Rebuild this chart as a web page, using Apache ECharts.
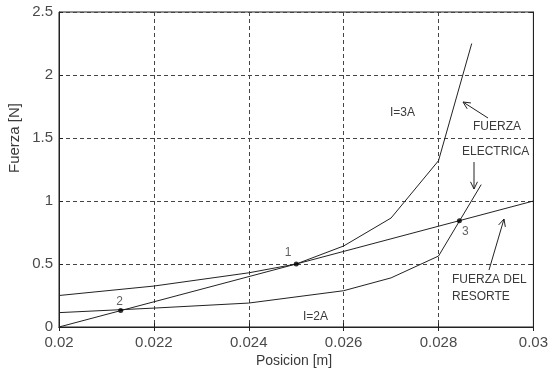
<!DOCTYPE html>
<html>
<head>
<meta charset="utf-8">
<script src="https://cdn.jsdelivr.net/npm/echarts@6/dist/echarts.min.js"></script>
<style>
  html, body { margin: 0; padding: 0; background: #fff; }
  #chart { width: 551px; height: 374px; }
</style>
</head>
<body>
<div id="chart"></div>
<script>
// Posición del émbolo [m] y fuerzas [N]
const xTickLabels = ['0.02', '0.022', '0.024', '0.026', '0.028', '0.03'];
const yTickLabels = ['0', '0.5', '1', '1.5', '2', '2.5'];

// Fuerza eléctrica, I = 3A
const pos3A = [0.020, 0.022, 0.024, 0.025, 0.026, 0.027, 0.028, 0.0287];
const fuerza3A = [0.25, 0.325, 0.43, 0.50, 0.643, 0.865, 1.32, 2.25];

// Fuerza eléctrica, I = 2A
const pos2A = [0.020, 0.022, 0.024, 0.026, 0.027, 0.028, 0.0289];
const fuerza2A = [0.114, 0.15, 0.19, 0.288, 0.39, 0.563, 1.13];

// Fuerza del resorte (lineal)
const posResorte = [0.020, 0.030];
const fuerzaResorte = [0.0, 1.0];

// Puntos de equilibrio
const eqNombre = ['1', '2', '3'];
const eqPos = [0.025, 0.0213, 0.02844];
const eqFuerza = [0.50, 0.13, 0.844];

const FONT = 'Liberation Sans';
const INK = '#222';
const TXT = '#3a3a3a';

const pair = (xs, ys) => xs.map((x, i) => [x, ys[i]]);

// label offsets for the equilibrium markers
const eqOffsets = [[-8, -11], [-1, -9], [6, 11]];

function arrow(x1, y1, x2, y2) {
  // open arrowhead at (x2, y2)
  const ang = Math.atan2(y2 - y1, x2 - x1);
  const L = 8, A = 0.45;
  const a1 = [x2 - L * Math.cos(ang - A), y2 - L * Math.sin(ang - A)];
  const a2 = [x2 - L * Math.cos(ang + A), y2 - L * Math.sin(ang + A)];
  return {
    type: 'group',
    children: [
      { type: 'line', shape: { x1, y1, x2, y2 }, style: { stroke: INK, lineWidth: 1 } },
      { type: 'polyline', shape: { points: [a1, [x2, y2], a2] }, style: { stroke: INK, lineWidth: 1, fill: null } }
    ]
  };
}

function label(text, x, y, opts) {
  return Object.assign({
    type: 'text', x, y,
    style: { text, fill: TXT, font: '12px "' + FONT + '"', textAlign: 'left', textVerticalAlign: 'middle' }
  }, opts || {});
}

const chart = echarts.init(document.getElementById('chart'), null, { renderer: 'canvas' });

const axisCommon = {
  axisLine: { show: true, lineStyle: { color: INK, width: 1 } },
  axisTick: { show: true, inside: true, length: 4, lineStyle: { color: INK } },
};

chart.setOption({
  animation: false,
  backgroundColor: '#fff',
  grid: { left: 59, right: 17, top: 12, bottom: 47, show: true, borderColor: INK, borderWidth: 1 },
  xAxis: [
    Object.assign({
      type: 'value', min: 0.02, max: 0.03, interval: 0.002,
      axisLabel: {
        color: '#4a4a4a', fontFamily: FONT, fontSize: 15, margin: 8,
        formatter: (v, i) => xTickLabels[Math.round((v - 0.02) / 0.002)]
      },
      splitLine: { show: true, lineStyle: { color: '#444', type: [4, 3], width: 1 } }
    }, axisCommon),
    Object.assign({
      type: 'value', min: 0.02, max: 0.03, interval: 0.002, position: 'top',
      axisLabel: { show: false }, splitLine: { show: false }
    }, axisCommon)
  ],
  yAxis: [
    Object.assign({
      type: 'value', min: 0, max: 2.5, interval: 0.5,
      axisLabel: {
        color: '#4a4a4a', fontFamily: FONT, fontSize: 15, margin: 6,
        formatter: (v) => yTickLabels[Math.round(v / 0.5)]
      },
      splitLine: { show: true, lineStyle: { color: '#444', type: [4, 3], width: 1 } }
    }, axisCommon),
    Object.assign({
      type: 'value', min: 0, max: 2.5, interval: 0.5, position: 'right',
      axisLabel: { show: false }, splitLine: { show: false }
    }, axisCommon)
  ],
  series: [
    {
      name: 'I=3A', type: 'line', data: pair(pos3A, fuerza3A),
      showSymbol: false, lineStyle: { color: INK, width: 1 }, z: 3
    },
    {
      name: 'I=2A', type: 'line', data: pair(pos2A, fuerza2A),
      showSymbol: false, lineStyle: { color: INK, width: 1 }, z: 3
    },
    {
      name: 'Resorte', type: 'line', data: pair(posResorte, fuerzaResorte),
      showSymbol: false, lineStyle: { color: INK, width: 1 }, z: 3
    },
    {
      name: 'Equilibrio', type: 'scatter', symbolSize: 5, z: 4,
      itemStyle: { color: '#000' },
      data: eqPos.map((x, i) => ({
        value: [x, eqFuerza[i]],
        label: {
          show: true, formatter: eqNombre[i], position: 'inside',
          offset: eqOffsets[i], color: TXT, fontFamily: FONT, fontSize: 12
        }
      }))
    }
  ],
  graphic: [
    // axis names
    label('Fuerza [N]', 15, 138, { rotation: Math.PI / 2, style: { text: 'Fuerza [N]', fill: TXT, font: '15px "' + FONT + '"', textAlign: 'center', textVerticalAlign: 'middle' } }),
    label('Posicion [m]', 294, 361, { style: { text: 'Posicion [m]', fill: TXT, font: '14px "' + FONT + '"', textAlign: 'center', textVerticalAlign: 'middle' } }),
    // curve annotations
    label('I=3A', 390, 113),
    label('I=2A', 303, 317),
    label('FUERZA', 473, 127),
    label('ELECTRICA', 462, 152),
    label('FUERZA DEL', 452, 280),
    label('RESORTE', 452, 297),
    arrow(488, 118, 463, 102),
    arrow(474, 162, 474, 189),
    arrow(489, 270, 504, 219)
  ]
});
</script>
</body>
</html>
